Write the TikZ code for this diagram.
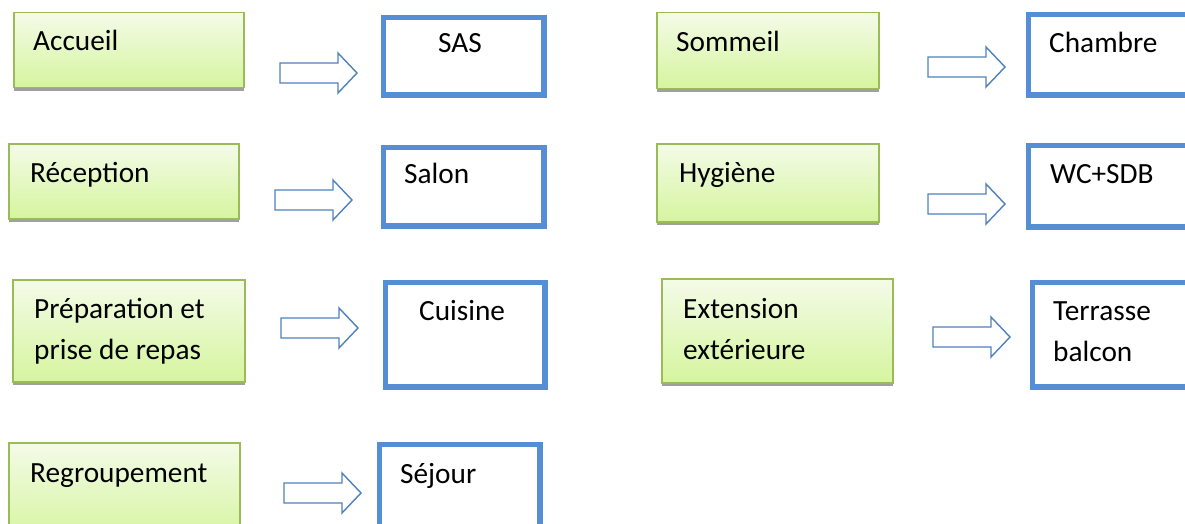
\documentclass[tikz,border=0pt]{standalone}
\usepackage{fontspec}
\setmainfont{Carlito}
\usetikzlibrary{shadows}
\definecolor{gborder}{RGB}{155,187,89}
\definecolor{gtop}{RGB}{244,251,232}
\definecolor{gbot}{RGB}{213,245,158}
\definecolor{bluec}{RGB}{85,142,213}
\definecolor{arrowc}{RGB}{79,129,189}
\definecolor{shadowc}{RGB}{160,160,160}
\tikzset{
  greenbox/.style={draw=gborder, line width=1.5pt, top color=gtop, bottom color=gbot,
    inner sep=0pt, anchor=north west,
    drop shadow={shadow xshift=0pt, shadow yshift=-3pt, fill=shadowc, opacity=1}},
  bluebox/.style={draw=bluec, line width=5.5pt, fill=white, inner sep=0pt, anchor=north west},
  lbl/.style={font=\fontsize{29.3}{41}\selectfont, inner sep=0pt, anchor=base west, align=left},
  blockarr/.style={draw=arrowc, line width=1.4pt, fill=white, line join=miter}
}
\newcommand{\gbox}[5]{\node[greenbox, minimum width={(#4-#2)*1pt}, minimum height={(#5-#3)*1pt}] (#1) at (#2,#3) {};}
\newcommand{\bbox}[5]{\node[bluebox, minimum width={(#4-#2-5.5)*1pt}, minimum height={(#5-#3-5.5)*1pt}] (#1) at ({#2+2.75},{#3+2.75}) {};}
\newcommand{\barrow}[3]{\coordinate (#1) at (#2,#3);
  \draw[blockarr, shift={(#1)}] (0,-10) -- (58,-10) -- (58,-20) -- (77,0) -- (58,20) -- (58,10) -- (0,10) -- cycle;}
\begin{document}
\begin{tikzpicture}[x=1pt,y=-1pt]
\useasboundingbox (0,0) rectangle (1185,524);
\clip (0,0) rectangle (1185,524);
% green boxes
\gbox{g1}{13}{12}{243}{87}
\gbox{g2}{8}{143}{238}{218}
\gbox{g3}{12}{279}{244}{381}
\gbox{g4}{8}{442}{239}{540}
\gbox{h1}{656}{12}{878}{88}
\gbox{h2}{656}{143}{878}{221}
\gbox{h3}{661}{278}{892}{382}
% blue boxes
\bbox{s1}{378}{12}{544}{95}
\bbox{s2}{378}{142}{544}{226}
\bbox{s3}{380}{277}{545}{387}
\bbox{s4}{374}{439}{540}{560}
\bbox{t1}{1023}{9}{1210}{95}
\bbox{t2}{1023}{140}{1210}{227}
\bbox{t3}{1027}{277}{1210}{387}
% arrows
\barrow{a1}{280}{73}
\barrow{a2}{275}{200}
\barrow{a3}{281}{328}
\barrow{a4}{284}{493}
\barrow{b1}{928}{67}
\barrow{b2}{928}{204}
\barrow{b3}{933}{337}
% labels
\node[lbl] (l1) at (33,51) {Accueil};
\node[lbl] (l2) at (30,182) {Réception};
\node[lbl] (l3) at (34,359) {Préparation et\\prise de repas};
\node[lbl] (l4) at (30,482) {Regroupement};
\node[lbl] (m1) at (676,52) {Sommeil};
\node[lbl] (m2) at (679,182) {Hygiène};
\node[lbl] (m3) at (683,359) {Extension\\extérieure};
\node[lbl] (r1) at (438,53) {SAS};
\node[lbl] (r2) at (404,183) {Salon};
\node[lbl] (r3) at (419,320) {Cuisine};
\node[lbl] (r4) at (400,483) {Séjour};
\node[lbl] (q1) at (1049,53) {Chambre};
\node[lbl] (q2) at (1050,183) {WC+SDB};
\node[lbl] (q3) at (1053,361) {Terrasse\\balcon};
\end{tikzpicture}
\end{document}
